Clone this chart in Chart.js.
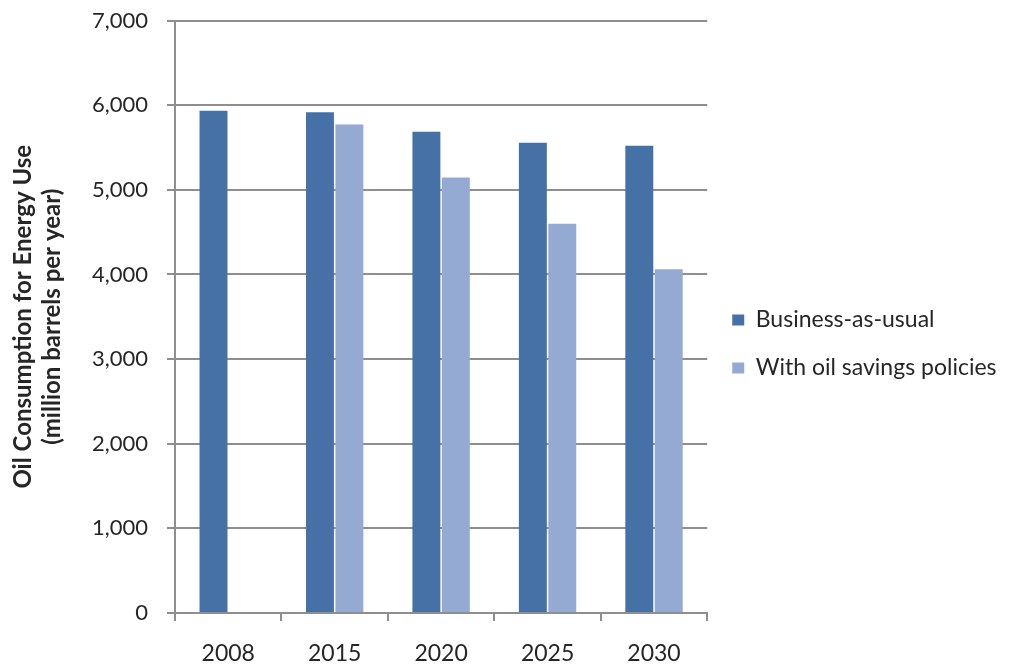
<!DOCTYPE html>
<html>
<head>
<meta charset="utf-8">
<title>Oil Consumption for Energy Use</title>
<script src="https://cdn.jsdelivr.net/npm/chart.js@4/dist/chart.umd.min.js"></script>
<style>
  html, body { margin: 0; padding: 0; background: #ffffff; }
  #wrap { width: 1016px; height: 668px; }
</style>
</head>
<body>
<div id="wrap"><canvas id="chart" width="1016" height="668"></canvas></div>
<script>
// Projected oil consumption, million barrels per year
const years = ['2008', '2015', '2020', '2025', '2030'];
const businessAsUsual = [5935, 5915, 5685, 5555, 5520];
const withOilSavings = [null, 5770, 5145, 4600, 4060];
const seriesNames = ['Business-as-usual', 'With oil savings policies'];
const axisTitle = ['Oil Consumption for Energy Use', '(million barrels per year)'];

const gridColor = '#8e8e8e';
const textColor = '#262626';
const fontFamily = 'Lato, "Open Sans", "Liberation Sans", sans-serif';

new Chart(document.getElementById('chart'), {
  type: 'bar',
  data: {
    labels: years,
    datasets: [
      {
        label: seriesNames[0],
        data: businessAsUsual,
        backgroundColor: '#4571a6',
        borderWidth: 0,
        categoryPercentage: 0.553,
        barPercentage: 0.95
      },
      {
        label: seriesNames[1],
        data: withOilSavings,
        backgroundColor: '#94aad2',
        borderWidth: 0,
        categoryPercentage: 0.553,
        barPercentage: 0.95
      }
    ]
  },
  options: {
    responsive: false,
    animation: false,
    layout: { padding: { top: 0, right: 9.5, bottom: 0, left: 0 } },
    plugins: {
      tooltip: { enabled: false },
      legend: {
        position: 'right',
        align: 'center',
        maxWidth: 340,
        title: {
          display: true,
          text: '',
          padding: { top: 19, bottom: 0 },
          font: { size: 1, lineHeight: 1 }
        },
        labels: {
          boxWidth: 12,
          boxHeight: 11,
          padding: 25,
          color: textColor,
          font: { family: fontFamily, size: 23 }
        }
      }
    },
    scales: {
      x: {
        offset: true,
        afterFit: (scale) => { scale.height = 55; },
        grid: {
          display: true,
          offset: true,
          drawOnChartArea: false,
          drawTicks: true,
          tickLength: 8,
          color: gridColor,
          lineWidth: 2
        },
        border: { display: true, color: gridColor, width: 2 },
        ticks: {
          color: textColor,
          padding: 19,
          font: { family: fontFamily, size: 23 }
        }
      },
      y: {
        min: 0,
        max: 7000,
        afterFit: (scale) => {
          scale.width = 175;
          scale.paddingTop = 20.5;
          scale.paddingBottom = 13;
        },
        ticks: {
          stepSize: 1000,
          color: textColor,
          padding: 19,
          font: { family: fontFamily, size: 22 },
          callback: (v) => Number(v).toLocaleString('en-US')
        },
        grid: {
          color: gridColor,
          lineWidth: 2,
          tickLength: 8
        },
        border: { display: true, color: gridColor, width: 2 },
        title: {
          display: true,
          text: axisTitle,
          color: textColor,
          padding: { top: 9, bottom: 0 },
          font: { family: fontFamily, size: 24, weight: 'bold', lineHeight: 1.2 }
        }
      }
    }
  }
});
</script>
</body>
</html>
